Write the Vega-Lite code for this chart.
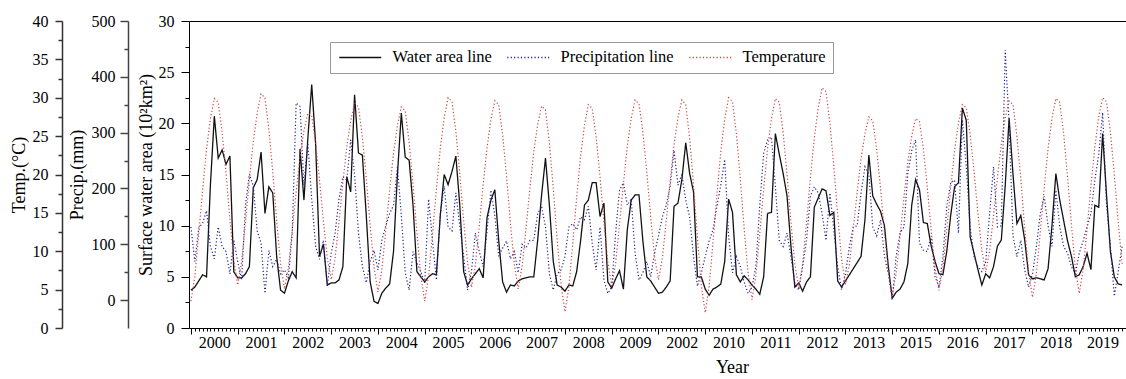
{
  "$schema": "https://vega.github.io/schema/vega-lite/v6.json",
  "width": 937,
  "height": 307,
  "autosize": {"type": "none"},
  "padding": {"left": 189, "top": 21, "right": 0, "bottom": 51},
  "background": "white",
  "config": {
    "view": {"stroke": null},
    "font": "Liberation Serif",
    "axis": {
      "grid": false,
      "labelFont": "Liberation Serif",
      "titleFont": "Liberation Serif",
      "labelColor": "black",
      "titleColor": "black",
      "domainColor": "black",
      "tickColor": "black",
      "labelFontSize": 16,
      "titleFontSize": 18,
      "titleFontWeight": "normal",
      "labelFlush": false,
      "labelOverlap": false
    },
    "legend": {
      "labelFont": "Liberation Serif",
      "labelFontSize": 16.5,
      "labelColor": "black"
    }
  },
  "data": {
    "values": [
      {"t":0,"w":3.7,"p":131,"c":3.5},{"t":1,"w":4.0,"p":69,"c":6.7},{"t":2,"w":4.6,"p":129,"c":12.2},{"t":3,"w":5.2,"p":138,"c":18.0},{"t":4,"w":5.0,"p":160,"c":23.3},{"t":5,"w":14.0,"p":96,"c":27.3},{"t":6,"w":20.7,"p":74,"c":29.9},{"t":7,"w":16.6,"p":131,"c":29.4},{"t":8,"w":17.4,"p":96,"c":25.5},{"t":9,"w":16.0,"p":87,"c":20.2},{"t":10,"w":16.8,"p":47,"c":14.1},{"t":11,"w":5.5,"p":107,"c":8.8},
      {"t":12,"w":4.9,"p":69,"c":5.6},{"t":13,"w":4.9,"p":36,"c":8.6},{"t":14,"w":5.3,"p":170,"c":13.8},{"t":15,"w":6.0,"p":226,"c":19.3},{"t":16,"w":13.7,"p":204,"c":24.3},{"t":17,"w":14.5,"p":124,"c":28.0},{"t":18,"w":17.2,"p":102,"c":30.5},{"t":19,"w":11.2,"p":12,"c":30.0},{"t":20,"w":13.8,"p":89,"c":25.9},{"t":21,"w":13.2,"p":60,"c":20.3},{"t":22,"w":7.0,"p":73,"c":14.0},{"t":23,"w":3.7,"p":47,"c":8.4},
      {"t":24,"w":3.4,"p":54,"c":5.1},{"t":25,"w":4.6,"p":40,"c":7.8},{"t":26,"w":5.5,"p":120,"c":12.7},{"t":27,"w":4.9,"p":353,"c":17.7},{"t":28,"w":17.5,"p":347,"c":22.3},{"t":29,"w":12.5,"p":206,"c":25.7},{"t":30,"w":18.5,"p":281,"c":28.0},{"t":31,"w":23.8,"p":181,"c":27.6},{"t":32,"w":18.0,"p":96,"c":24.1},{"t":33,"w":7.0,"p":73,"c":19.3},{"t":34,"w":8.2,"p":107,"c":13.9},{"t":35,"w":4.2,"p":25,"c":9.1},
      {"t":36,"w":4.4,"p":84,"c":6.3},{"t":37,"w":4.4,"p":120,"c":9.1},{"t":38,"w":4.7,"p":181,"c":13.9},{"t":39,"w":6.0,"p":221,"c":19.0},{"t":40,"w":14.8,"p":215,"c":23.6},{"t":41,"w":13.3,"p":287,"c":27.0},{"t":42,"w":22.8,"p":225,"c":29.3},{"t":43,"w":17.1,"p":120,"c":28.8},{"t":44,"w":16.9,"p":60,"c":24.9},{"t":45,"w":11.0,"p":31,"c":19.5},{"t":46,"w":4.5,"p":69,"c":13.3},{"t":47,"w":2.6,"p":89,"c":7.9},
      {"t":48,"w":2.4,"p":54,"c":4.7},{"t":49,"w":3.4,"p":107,"c":7.6},{"t":50,"w":3.9,"p":133,"c":12.7},{"t":51,"w":4.3,"p":155,"c":18.0},{"t":52,"w":7.5,"p":170,"c":22.8},{"t":53,"w":15.0,"p":239,"c":26.4},{"t":54,"w":21.0,"p":151,"c":28.8},{"t":55,"w":16.7,"p":49,"c":28.3},{"t":56,"w":16.4,"p":18,"c":24.2},{"t":57,"w":12.0,"p":87,"c":18.7},{"t":58,"w":5.5,"p":67,"c":12.4},{"t":59,"w":5.0,"p":51,"c":6.8},
      {"t":60,"w":4.5,"p":31,"c":3.5},{"t":61,"w":5.0,"p":181,"c":6.7},{"t":62,"w":5.3,"p":106,"c":12.2},{"t":63,"w":5.2,"p":36,"c":18.1},{"t":64,"w":11.0,"p":155,"c":23.4},{"t":65,"w":15.0,"p":204,"c":27.4},{"t":66,"w":14.0,"p":131,"c":30.0},{"t":67,"w":15.3,"p":124,"c":29.5},{"t":68,"w":16.8,"p":192,"c":25.6},{"t":69,"w":12.0,"p":133,"c":20.1},{"t":70,"w":5.5,"p":78,"c":14.0},{"t":71,"w":4.2,"p":18,"c":8.5},
      {"t":72,"w":4.8,"p":51,"c":5.3},{"t":73,"w":5.3,"p":120,"c":8.2},{"t":74,"w":5.8,"p":87,"c":13.3},{"t":75,"w":4.9,"p":60,"c":18.7},{"t":76,"w":10.8,"p":124,"c":23.5},{"t":77,"w":12.5,"p":197,"c":27.2},{"t":78,"w":13.5,"p":151,"c":29.6},{"t":79,"w":8.5,"p":78,"c":29.1},{"t":80,"w":4.5,"p":93,"c":25.2},{"t":81,"w":3.5,"p":106,"c":19.8},{"t":82,"w":4.2,"p":74,"c":13.7},{"t":83,"w":4.1,"p":87,"c":8.3},
      {"t":84,"w":4.6,"p":49,"c":5.1},{"t":85,"w":4.8,"p":100,"c":8.0},{"t":86,"w":4.9,"p":93,"c":13.0},{"t":87,"w":5.0,"p":107,"c":18.2},{"t":88,"w":5.0,"p":107,"c":23.0},{"t":89,"w":8.6,"p":155,"c":26.5},{"t":90,"w":13.0,"p":168,"c":28.9},{"t":91,"w":16.6,"p":131,"c":28.4},{"t":92,"w":12.0,"p":47,"c":24.1},{"t":93,"w":6.5,"p":18,"c":18.2},{"t":94,"w":4.2,"p":47,"c":11.5},{"t":95,"w":4.0,"p":54,"c":5.6},
      {"t":96,"w":3.6,"p":78,"c":2.1},{"t":97,"w":4.2,"p":131,"c":5.3},{"t":98,"w":4.1,"p":137,"c":11.0},{"t":99,"w":5.5,"p":126,"c":17.0},{"t":100,"w":8.5,"p":149,"c":22.4},{"t":101,"w":12.0,"p":144,"c":26.4},{"t":102,"w":12.5,"p":168,"c":29.1},{"t":103,"w":14.2,"p":102,"c":28.6},{"t":104,"w":14.2,"p":54,"c":24.9},{"t":105,"w":10.9,"p":131,"c":19.7},{"t":106,"w":12.2,"p":36,"c":13.8},{"t":107,"w":4.5,"p":12,"c":8.6},
      {"t":108,"w":3.9,"p":23,"c":5.5},{"t":109,"w":4.8,"p":120,"c":8.4},{"t":110,"w":5.6,"p":197,"c":13.5},{"t":111,"w":3.8,"p":210,"c":18.8},{"t":112,"w":9.6,"p":170,"c":23.7},{"t":113,"w":12.5,"p":181,"c":27.3},{"t":114,"w":13.0,"p":84,"c":29.7},{"t":115,"w":13.0,"p":36,"c":29.2},{"t":116,"w":8.5,"p":49,"c":25.5},{"t":117,"w":5.0,"p":69,"c":20.3},{"t":118,"w":4.6,"p":42,"c":14.5},{"t":119,"w":4.0,"p":84,"c":9.3},
      {"t":120,"w":3.4,"p":115,"c":6.3},{"t":121,"w":3.5,"p":149,"c":9.1},{"t":122,"w":4.0,"p":170,"c":14.0},{"t":123,"w":4.6,"p":204,"c":19.2},{"t":124,"w":11.9,"p":268,"c":23.9},{"t":125,"w":12.2,"p":206,"c":27.4},{"t":126,"w":14.5,"p":225,"c":29.7},{"t":127,"w":18.1,"p":179,"c":29.1},{"t":128,"w":15.1,"p":149,"c":24.7},{"t":129,"w":13.3,"p":78,"c":18.6},{"t":130,"w":5.0,"p":25,"c":11.7},{"t":131,"w":5.0,"p":49,"c":5.6},
      {"t":132,"w":3.8,"p":78,"c":2.0},{"t":133,"w":3.2,"p":106,"c":5.4},{"t":134,"w":3.8,"p":126,"c":11.2},{"t":135,"w":4.0,"p":168,"c":17.4},{"t":136,"w":4.3,"p":206,"c":23.0},{"t":137,"w":6.5,"p":252,"c":27.2},{"t":138,"w":12.6,"p":115,"c":30.0},{"t":139,"w":11.3,"p":49,"c":29.5},{"t":140,"w":5.2,"p":78,"c":25.3},{"t":141,"w":4.5,"p":60,"c":19.5},{"t":142,"w":5.1,"p":32,"c":12.9},{"t":143,"w":4.7,"p":12,"c":7.1},
      {"t":144,"w":4.2,"p":23,"c":3.7},{"t":145,"w":3.8,"p":60,"c":6.8},{"t":146,"w":3.3,"p":170,"c":12.3},{"t":147,"w":5.0,"p":263,"c":18.1},{"t":148,"w":11.2,"p":287,"c":23.4},{"t":149,"w":11.3,"p":292,"c":27.3},{"t":150,"w":19.0,"p":204,"c":29.9},{"t":151,"w":17.0,"p":107,"c":29.4},{"t":152,"w":15.1,"p":96,"c":25.5},{"t":153,"w":12.9,"p":120,"c":20.0},{"t":154,"w":8.0,"p":78,"c":13.8},{"t":155,"w":4.0,"p":31,"c":8.4},
      {"t":156,"w":4.4,"p":18,"c":5.2},{"t":157,"w":3.6,"p":60,"c":8.3},{"t":158,"w":4.5,"p":107,"c":13.8},{"t":159,"w":5.0,"p":186,"c":19.6},{"t":160,"w":11.8,"p":203,"c":24.8},{"t":161,"w":12.7,"p":192,"c":28.7},{"t":162,"w":13.6,"p":155,"c":31.3},{"t":163,"w":13.4,"p":107,"c":30.8},{"t":164,"w":11.0,"p":192,"c":26.7},{"t":165,"w":11.3,"p":126,"c":21.1},{"t":166,"w":4.6,"p":60,"c":14.7},{"t":167,"w":4.0,"p":18,"c":9.0},
      {"t":168,"w":4.6,"p":47,"c":5.7},{"t":169,"w":5.2,"p":96,"c":8.3},{"t":170,"w":5.8,"p":131,"c":12.9},{"t":171,"w":6.4,"p":133,"c":17.7},{"t":172,"w":7.0,"p":192,"c":22.1},{"t":173,"w":10.6,"p":239,"c":25.3},{"t":174,"w":16.9,"p":226,"c":27.5},{"t":175,"w":12.9,"p":131,"c":27.0},{"t":176,"w":12.1,"p":115,"c":23.3},{"t":177,"w":11.4,"p":144,"c":18.2},{"t":178,"w":10.0,"p":78,"c":12.4},{"t":179,"w":6.0,"p":47,"c":7.3},
      {"t":180,"w":2.9,"p":1,"c":4.3},{"t":181,"w":3.5,"p":78,"c":7.1},{"t":182,"w":3.8,"p":120,"c":11.9},{"t":183,"w":4.5,"p":131,"c":17.0},{"t":184,"w":6.3,"p":226,"c":21.6},{"t":185,"w":12.0,"p":268,"c":25.0},{"t":186,"w":14.5,"p":287,"c":27.3},{"t":187,"w":13.5,"p":102,"c":26.9},{"t":188,"w":10.3,"p":89,"c":23.3},{"t":189,"w":10.2,"p":87,"c":18.3},{"t":190,"w":8.0,"p":115,"c":12.7},{"t":191,"w":6.5,"p":42,"c":7.8},
      {"t":192,"w":5.3,"p":23,"c":4.9},{"t":193,"w":5.2,"p":78,"c":7.8},{"t":194,"w":7.5,"p":168,"c":12.9},{"t":195,"w":11.0,"p":210,"c":18.2},{"t":196,"w":13.8,"p":215,"c":23.1},{"t":197,"w":14.2,"p":120,"c":26.7},{"t":198,"w":21.5,"p":323,"c":29.1},{"t":199,"w":20.3,"p":239,"c":28.7},{"t":200,"w":8.9,"p":131,"c":25.2},{"t":201,"w":7.3,"p":78,"c":20.4},{"t":202,"w":5.7,"p":60,"c":14.9},{"t":203,"w":4.2,"p":51,"c":10.1},
      {"t":204,"w":5.3,"p":69,"c":7.3},{"t":205,"w":4.9,"p":155,"c":10.0},{"t":206,"w":6.0,"p":239,"c":14.7},{"t":207,"w":8.0,"p":131,"c":19.6},{"t":208,"w":8.6,"p":133,"c":24.0},{"t":209,"w":13.9,"p":448,"c":27.4},{"t":210,"w":20.5,"p":316,"c":29.6},{"t":211,"w":15.0,"p":115,"c":29.1},{"t":212,"w":10.2,"p":78,"c":25.0},{"t":213,"w":11.0,"p":107,"c":19.4},{"t":214,"w":8.6,"p":54,"c":13.0},{"t":215,"w":5.2,"p":23,"c":7.3},
      {"t":216,"w":4.8,"p":47,"c":4.0},{"t":217,"w":4.9,"p":96,"c":7.1},{"t":218,"w":4.8,"p":155,"c":12.5},{"t":219,"w":4.7,"p":186,"c":18.2},{"t":220,"w":5.8,"p":133,"c":23.4},{"t":221,"w":10.0,"p":96,"c":27.3},{"t":222,"w":15.1,"p":197,"c":29.9},{"t":223,"w":12.5,"p":131,"c":29.4},{"t":224,"w":10.5,"p":96,"c":25.3},{"t":225,"w":8.5,"p":84,"c":19.7},{"t":226,"w":7.0,"p":60,"c":13.4},{"t":227,"w":5.0,"p":47,"c":7.8},
      {"t":228,"w":5.2,"p":84,"c":4.5},{"t":229,"w":6.0,"p":106,"c":7.6},{"t":230,"w":7.3,"p":131,"c":12.9},{"t":231,"w":5.7,"p":155,"c":18.5},{"t":232,"w":12.0,"p":215,"c":23.6},{"t":233,"w":11.8,"p":261,"c":27.5},{"t":234,"w":19.0,"p":336,"c":30.0},{"t":235,"w":13.0,"p":170,"c":29.5},{"t":236,"w":7.5,"p":96,"c":25.5},{"t":237,"w":5.0,"p":7,"c":20.0},{"t":238,"w":4.3,"p":51,"c":13.8},{"t":239,"w":4.2,"p":96,"c":8.3}
    ]
  },
  "resolve": {
    "scale": {"y": "independent"},
    "axis": {"x": "independent", "y": "independent"}
  },
  "layer": [
    {
      "mark": {"type": "line", "strokeWidth": 1.3},
      "encoding": {
        "x": {
          "field": "t", "type": "quantitative",
          "scale": {"domain": [-0.5, 240], "nice": false, "zero": false},
          "axis": {"orient": "bottom", "tickCount": 240, "labels": false, "tickSize": 3, "title": null}
        },
        "y": {
          "field": "w", "type": "quantitative",
          "scale": {"domain": [0, 30], "nice": false, "zero": false},
          "axis": {"orient": "left", "values": [0, 5, 10, 15, 20, 25, 30], "tickSize": 8, "labelPadding": 7, "labelFont": "Liberation Serif", "titleFont": "Liberation Serif", "title": "Surface water area (10²km²)", "titlePadding": 3}
        },
        "color": {
          "datum": "Water area line",
          "scale": {"domain": ["Water area line", "Precipitation line", "Temperature"], "range": ["#111111", "#22228f", "#cc4444"]},
          "legend": {"orient": "none", "legendX": 141, "legendY": 21, "direction": "horizontal", "columns": 3, "title": null, "symbolType": "M-4,0H4", "symbolSize": 110, "symbolStrokeWidth": 1.5, "symbolOffset": 15, "labelOffset": 24, "columnPadding": 12, "padding": 7, "strokeColor": "#999999", "labelFont": "Liberation Serif"}
        },
        "strokeDash": {
          "datum": "Water area line",
          "scale": {"domain": ["Water area line", "Precipitation line", "Temperature"], "range": [[1, 0], [1.2, 2.2], [1.2, 2.2]]},
          "legend": {"orient": "none", "legendX": 141, "legendY": 21, "direction": "horizontal", "columns": 3, "title": null, "symbolType": "M-4,0H4", "symbolSize": 110, "symbolStrokeWidth": 1.5, "symbolOffset": 15, "labelOffset": 24, "columnPadding": 12, "padding": 7, "strokeColor": "#999999", "labelFont": "Liberation Serif"}
        }
      }
    },
    {
      "mark": {"type": "line", "strokeWidth": 1.2},
      "encoding": {
        "x": {
          "field": "t", "type": "quantitative",
          "scale": {"domain": [-0.5, 240], "nice": false, "zero": false},
          "axis": {"orient": "bottom", "values": [0, 12, 24, 36, 48, 60, 72, 84, 96, 108, 120, 132, 144, 156, 168, 180, 192, 204, 216, 228, 240], "labels": false, "tickSize": 6, "domain": false, "title": null}
        },
        "y": {
          "field": "p", "type": "quantitative",
          "scale": {"domain": [-50, 500], "nice": false, "zero": false},
          "axis": {"orient": "left", "offset": 61, "values": [0, 100, 200, 300, 400, 500], "tickSize": 8, "labelPadding": 5, "labelFont": "Liberation Serif", "titleFont": "Liberation Serif", "title": "Precip.(mm)", "titlePadding": 5, "domainColor": "#444444", "domainWidth": 1.5, "tickWidth": 1.5, "tickColor": "#444444"}
        },
        "color": {"datum": "Precipitation line"},
        "strokeDash": {"datum": "Precipitation line"}
      }
    },
    {
      "mark": {"type": "line", "strokeWidth": 1.2},
      "encoding": {
        "x": {
          "field": "t", "type": "quantitative",
          "scale": {"domain": [-0.5, 240], "nice": false, "zero": false},
          "axis": {
            "orient": "bottom",
            "values": [6, 18, 30, 42, 54, 66, 78, 90, 102, 114, 126, 138, 150, 162, 174, 186, 198, 210, 222, 234],
            "ticks": false, "tickSize": 0, "domain": false, "labelPadding": 6, "labelFont": "Liberation Serif", "titleFont": "Liberation Serif",
            "labelExpr": "['2000','2001','2002','2003','2004','2005','2006','2007','2008','2009','2002','2010','2011','2012','2013','2015','2016','2017','2018','2019'][floor(datum.value / 12)]",
            "title": "Year", "titleX": 543, "titlePadding": 8
          }
        },
        "y": {
          "field": "c", "type": "quantitative",
          "scale": {"domain": [0, 40], "nice": false, "zero": false},
          "axis": {"orient": "left", "offset": 127, "values": [0, 5, 10, 15, 20, 25, 30, 35, 40], "tickSize": 7, "labelPadding": 7, "labelFont": "Liberation Serif", "titleFont": "Liberation Serif", "title": "Temp.(°C)", "titlePadding": 4, "domainColor": "#333333", "domainWidth": 1.5, "tickWidth": 1.5, "tickColor": "#333333"}
        },
        "color": {"datum": "Temperature"},
        "strokeDash": {"datum": "Temperature"}
      }
    },
    {
      "mark": {"type": "line", "opacity": 0},
      "encoding": {
        "x": {
          "field": "t", "type": "quantitative",
          "scale": {"domain": [-0.5, 240], "nice": false, "zero": false},
          "axis": {"orient": "top", "ticks": false, "labels": false, "title": null}
        },
        "y": {
          "field": "w", "type": "quantitative",
          "scale": {"domain": [0, 30], "nice": false, "zero": false},
          "axis": {"orient": "left", "values": [2.5, 7.5, 12.5, 17.5, 22.5, 27.5], "labels": false, "tickSize": 4, "domain": false, "title": null}
        }
      }
    },
    {
      "mark": {"type": "line", "opacity": 0},
      "encoding": {
        "x": {"field": "t", "type": "quantitative", "scale": {"domain": [-0.5, 240], "nice": false, "zero": false}, "axis": null},
        "y": {
          "field": "p", "type": "quantitative",
          "scale": {"domain": [-50, 500], "nice": false, "zero": false},
          "axis": {"orient": "left", "offset": 61, "values": [50, 150, 250, 350, 450], "labels": false, "tickSize": 4, "tickWidth": 1.5, "tickColor": "#444444", "domain": false, "title": null}
        }
      }
    },
    {
      "mark": {"type": "line", "opacity": 0},
      "encoding": {
        "x": {"field": "t", "type": "quantitative", "scale": {"domain": [-0.5, 240], "nice": false, "zero": false}, "axis": null},
        "y": {
          "field": "c", "type": "quantitative",
          "scale": {"domain": [0, 40], "nice": false, "zero": false},
          "axis": {"orient": "left", "offset": 127, "values": [2.5, 7.5, 12.5, 17.5, 22.5, 27.5, 32.5, 37.5], "labels": false, "tickSize": 4, "tickWidth": 1.5, "tickColor": "#333333", "domain": false, "title": null}
        }
      }
    }
  ]
}
